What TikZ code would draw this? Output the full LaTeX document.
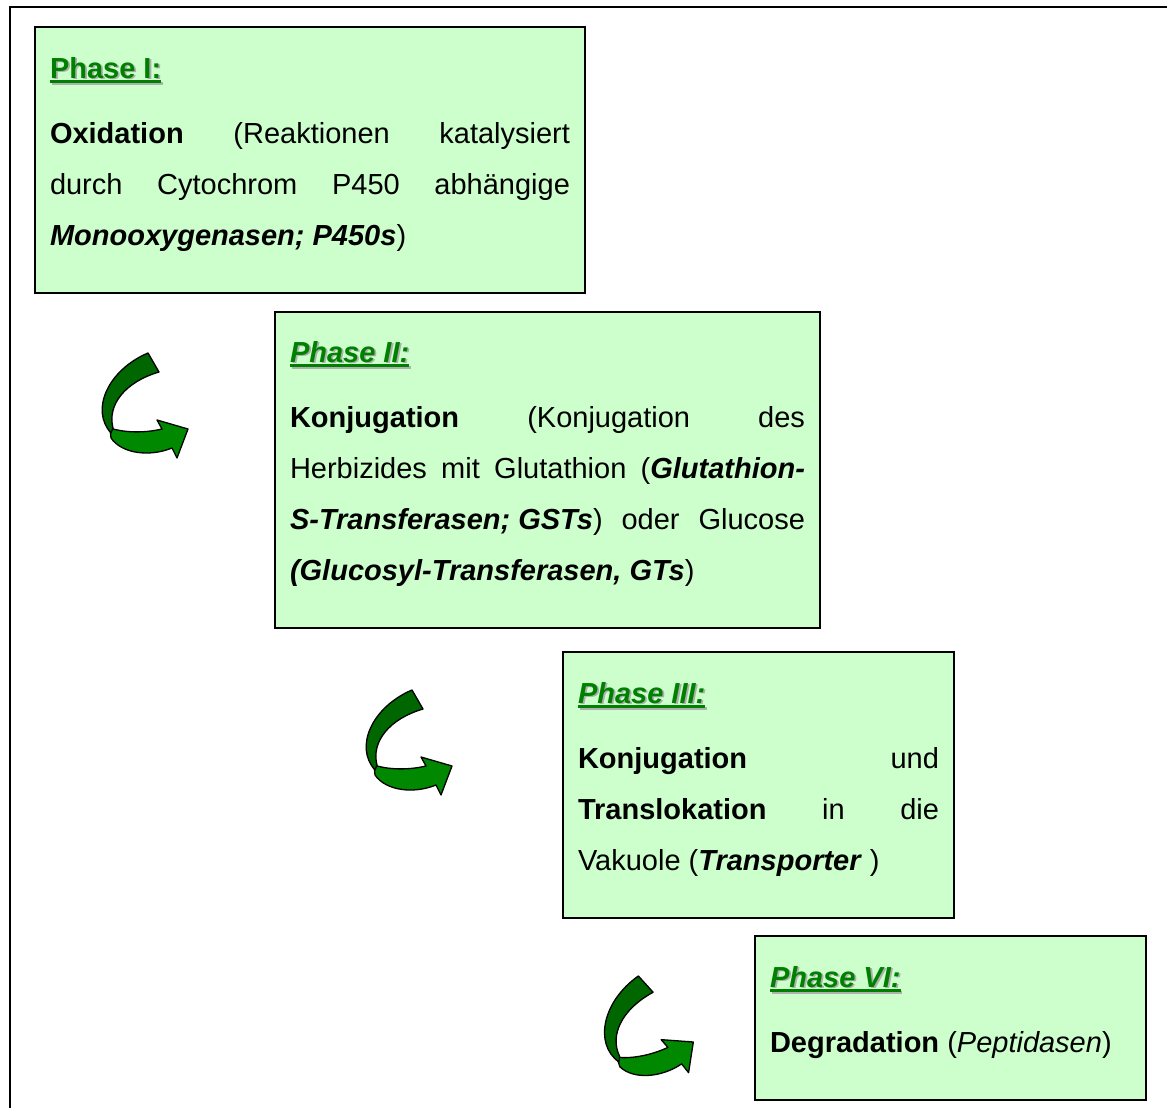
\documentclass[tikz,border=0pt]{standalone}
\usepackage{fontspec}
\setmainfont{Liberation Sans}
\definecolor{boxfill}{RGB}{204,255,204}
\definecolor{tgreen}{RGB}{0,128,0}
\definecolor{tshadow}{RGB}{175,175,175}
\definecolor{adark}{RGB}{0,102,0}
\definecolor{alight}{RGB}{0,136,0}
\newsavebox\tbox
\newcommand\ulbox[1]{\sbox\tbox{#1}\rlap{\usebox\tbox}\rule[-5pt]{\wd\tbox}{3pt}}
\newcommand\ptitle[1]{\rlap{\kern1.8pt\raisebox{-1.8pt}{\color{tshadow}\ulbox{#1}}}{\color{tgreen}\ulbox{#1}}}
\newcommand\bi[1]{\textbf{\textit{#1}}}
\newcommand\garrow[2]{%
  \begin{scope}[shift={#1}, rotate=#2, shift={(-31,-89)}]
    \filldraw[arrowline, fill=alight]
      (30,88) .. controls (45,93) and (65,93) .. (82,89)
      -- (77,80) -- (108,89) -- (97,118) -- (92,108)
      .. controls (70,117) and (42,114) .. (31,98) -- cycle;
    \filldraw[arrowline, fill=adark]
      (68,13) .. controls (28,30) and (10,70) .. (31,93)
      -- (33,88) .. controls (27,65) and (45,42) .. (79,32) -- cycle;
  \end{scope}}
\begin{document}
\begin{tikzpicture}[x=1pt, y=-1pt,
  phasebox/.style={draw=black, line width=2.5pt, fill=boxfill, outer sep=0pt,
    inner sep=0pt, anchor=north west},
  phasetext/.style={anchor=base west, inner sep=0pt, outer sep=0pt,
    font=\fontsize{29}{51}\selectfont, align=justify},
  arrowline/.style={draw=black, line width=1.3pt, line join=round}]
\useasboundingbox (0,0) rectangle (1167,1108);
\coordinate (frameTR) at (1167,7);
\coordinate (frameTL) at (10,7);
\coordinate (frameBL) at (10,1108);
\draw[line width=1.5pt] (frameTR) -- (frameTL) -- (frameBL);

\node[phasebox, minimum width=550pt, minimum height=266pt] (b1) at (35,27) {};
\node[phasebox, minimum width=545pt, minimum height=316pt] (b2) at (275,312) {};
\node[phasebox, minimum width=391pt, minimum height=266pt] (b3) at (563,652) {};
\node[phasebox, minimum width=391pt, minimum height=164pt] (b4) at (755,936) {};

\node[phasetext, text width=520pt] (t1) at (50,78) {%
\ptitle{\bfseries Phase I:}\\[14pt]
\textbf{Oxidation}\hfill(Reaktionen\hfill katalysiert\\
durch\hfill Cytochrom\hfill P450\hfill abhängige\\
\bi{Monooxygenasen; P450s})};

\node[phasetext, text width=515pt] (t2) at (290,362) {%
\ptitle{\bfseries\itshape Phase II:}\\[14pt]
\textbf{Konjugation}\hfill(Konjugation\hfill des\\
Herbizides\hfill mit\hfill Glutathion\hfill(\bi{Glutathion-}\\
\bi{S-Transferasen; GSTs})\hfill oder\hfill Glucose\\
\bi{(Glucosyl-Transferasen, GTs})};

\node[phasetext, text width=361pt] (t3) at (578,703) {%
\ptitle{\bfseries\itshape Phase III:}\\[14pt]
\textbf{Konjugation}\hfill und\\
\textbf{Translokation}\hfill in\hfill die\\
Vakuole (\bi{Transporter} )};

\node[phasetext, text width=360pt] (t4) at (770,987) {%
\ptitle{\bfseries\itshape Phase VI:}\\[14pt]
\textbf{Degradation} (\textit{Peptidasen})};

\garrow{(111,429)}{0}
\garrow{(375,766)}{0}
\garrow{(618,1058)}{12}
\end{tikzpicture}
\end{document}
